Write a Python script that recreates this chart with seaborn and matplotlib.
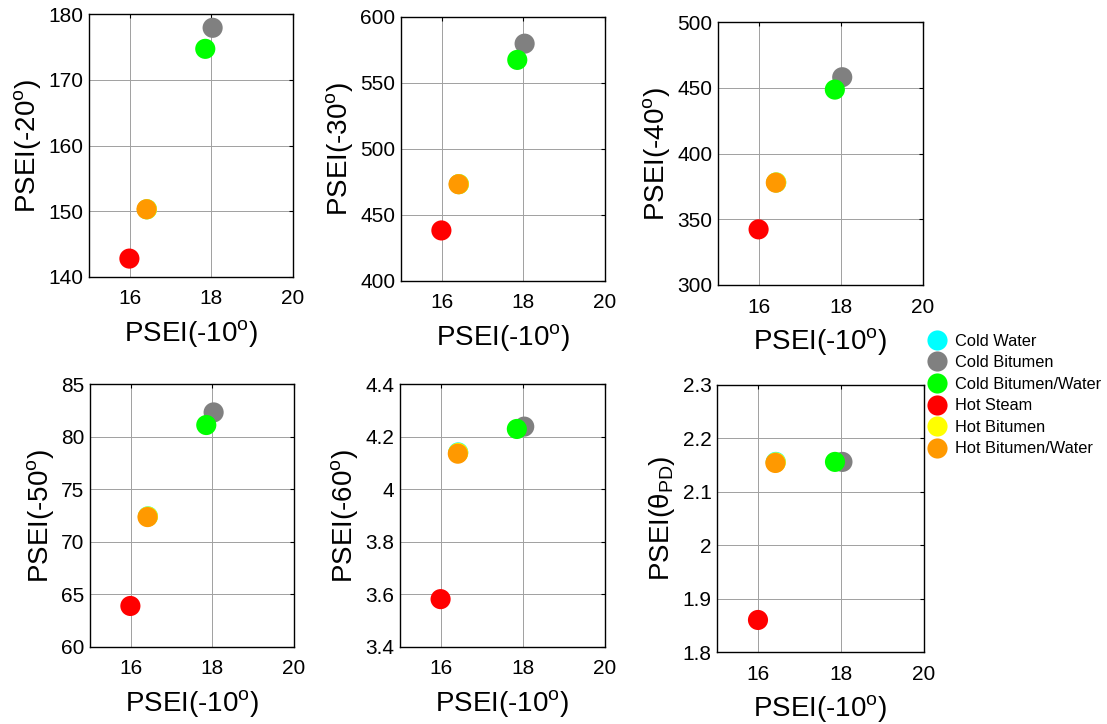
import matplotlib
matplotlib.use("Agg")
import matplotlib.pyplot as plt
from matplotlib.lines import Line2D
import seaborn as sns
import pandas as pd

# ---------------- data ----------------
categories = ["Cold Water", "Cold Bitumen", "Cold Bitumen/Water",
              "Hot Steam", "Hot Bitumen", "Hot Bitumen/Water"]
colors = ["#00FFFF", "#808080", "#00FF00", "#FF0000", "#FFFF00", "#FF9900"]

psei_10 = [16.42, 18.03, 17.85, 15.99, 16.42, 16.41]
psei_20 = [150.3, 177.9, 174.7, 142.8, 150.3, 150.3]
psei_30 = [473.4, 579.8, 567.5, 438.3, 473.4, 473.3]
psei_40 = [378.0, 458.0, 448.6, 342.3, 378.0, 377.8]
psei_50 = [72.42, 82.3, 81.1, 63.9, 72.4, 72.35]
psei_60 = [4.14, 4.238, 4.229, 3.582, 4.138, 4.135]
psei_pd = [2.156, 2.156, 2.156, 1.860, 2.155, 2.154]

y_labels = ["PSEI(-20$^{\\mathrm{o}}$)", "PSEI(-30$^{\\mathrm{o}}$)",
            "PSEI(-40$^{\\mathrm{o}}$)", "PSEI(-50$^{\\mathrm{o}}$)",
            "PSEI(-60$^{\\mathrm{o}}$)", "PSEI(θ$_{\\mathrm{PD}}$)"]
x_label = "PSEI(-10$^{\\mathrm{o}}$)"
y_limits = [(140, 180), (400, 600), (300, 500), (60, 85), (3.4, 4.4), (1.8, 2.3)]
y_ticks = [[140, 150, 160, 170, 180],
           [400, 450, 500, 550, 600],
           [300, 350, 400, 450, 500],
           [60, 65, 70, 75, 80, 85],
           [3.4, 3.6, 3.8, 4.0, 4.2, 4.4],
           [1.8, 1.9, 2.0, 2.1, 2.2, 2.3]]
y_ticklabels = [["140", "150", "160", "170", "180"],
                ["400", "450", "500", "550", "600"],
                ["300", "350", "400", "450", "500"],
                ["60", "65", "70", "75", "80", "85"],
                ["3.4", "3.6", "3.8", "4", "4.2", "4.4"],
                ["1.8", "1.9", "2", "2.1", "2.2", "2.3"]]
x_ticks = [16, 18, 20]
series_y = [psei_20, psei_30, psei_40, psei_50, psei_60, psei_pd]

# ---------------- style ----------------
sns.set_style("white")
plt.rcParams["font.family"] = ["Liberation Sans", "DejaVu Sans"]
plt.rcParams["mathtext.fontset"] = "custom"
plt.rcParams["mathtext.rm"] = "Liberation Sans"
plt.rcParams["mathtext.it"] = "Liberation Sans:italic"
plt.rcParams["mathtext.bf"] = "Liberation Sans:bold"
plt.rcParams["text.color"] = "black"
plt.rcParams["axes.labelcolor"] = "black"
plt.rcParams["xtick.color"] = "black"
plt.rcParams["ytick.color"] = "black"

W, H = 1107, 724
fig = plt.figure(figsize=(W / 100, H / 100), dpi=100)

# axes boxes in pixels: left, right, top, bottom
boxes = [(89, 293, 14, 277), (401, 605, 17, 281), (718, 923, 22, 285),
         (90, 294, 384, 647), (400, 605, 384, 647), (717, 924, 385, 652)]

palette = dict(zip(categories, colors))

for i, (l, r, t, b) in enumerate(boxes):
    ax = fig.add_axes([l / W, 1 - b / H, (r - l) / W, (b - t) / H])
    df = pd.DataFrame({"x": psei_10, "y": series_y[i], "cat": categories})
    sns.scatterplot(data=df, x="x", y="y", hue="cat", palette=palette,
                    hue_order=categories, s=210, linewidth=0, legend=False,
                    ax=ax, zorder=3)
    ax.set_xlim(15, 20)
    ax.set_ylim(*y_limits[i])
    ax.set_xticks(x_ticks)
    ax.set_xticklabels([str(v) for v in x_ticks])
    ax.set_yticks(y_ticks[i])
    ax.set_yticklabels(y_ticklabels[i])
    ax.grid(True, color="#a0a0a0", linestyle="-", linewidth=0.7)
    ax.set_axisbelow(True)
    for sp in ax.spines.values():
        sp.set_visible(True)
        sp.set_color("black")
        sp.set_linewidth(1.0)
    ax.tick_params(direction="in", top=True, right=True, length=3,
                   width=0.8, labelsize=15, colors="black")
    ax.tick_params(axis="x", pad=9)
    ax.tick_params(axis="y", pad=4)
    ax.set_xlabel(x_label, fontsize=20, labelpad=7, color="black")
    ax.set_ylabel(y_labels[i], fontsize=20, labelpad=4, color="black")

handles = [Line2D([0], [0], marker="o", linestyle="", markersize=14.5,
                  markerfacecolor=c, markeredgewidth=0, color=c)
           for c in colors]
leg = fig.legend(handles, categories, loc="center left",
                 bbox_to_anchor=(929 / W, 1 - 395 / H), frameon=False,
                 fontsize=11.8, handlelength=1.0, handletextpad=0.6,
                 labelspacing=0.4, borderpad=0, borderaxespad=0)
for txt in leg.get_texts():
    txt.set_color("black")

fig.savefig("out.png", dpi=100)
